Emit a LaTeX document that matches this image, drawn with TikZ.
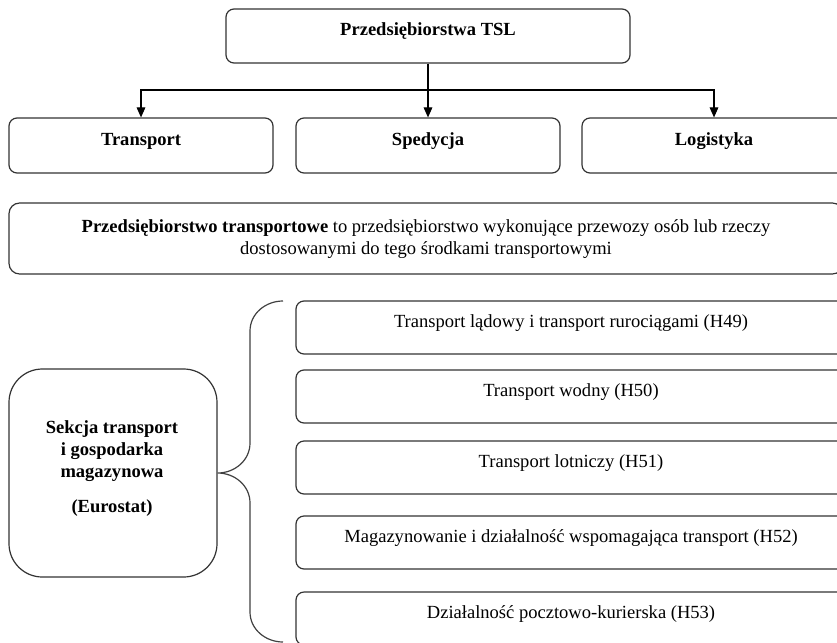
\documentclass[tikz,border=0pt]{standalone}
\usepackage{fontspec}
\setmainfont{Liberation Serif}
\usetikzlibrary{arrows.meta}
\tikzset{
  box/.style={draw=black!80, line width=0.9pt, rounded corners=6pt, inner sep=0pt,
    text height=0.5em, text depth=0.5em, font=\fontsize{13.9pt}{16.5pt}\selectfont},
  bbox/.style={box, font=\fontsize{13.9pt}{16.5pt}\selectfont\bfseries},
  rowbox/.style={bbox, minimum width=198pt, minimum height=41.25pt},
  catbox/.style={box, minimum width=412.5pt, minimum height=39.75pt},
  txt/.style={inner sep=0pt, anchor=base, font=\fontsize{13.9pt}{16.5pt}\selectfont},
  conn/.style={draw=black, line width=0.8pt, -{Triangle[length=7.5pt,width=6.5pt]}},
  bracestyle/.style={draw=black!75, line width=0.9pt}
}
\begin{document}
\begin{tikzpicture}[x=0.75pt,y=-0.75pt]
\useasboundingbox (0,0) rectangle (837,642);
\clip (0,0) rectangle (837,642);

% top
\node[bbox, minimum width=303pt, minimum height=40.5pt] (tsl) at (428,36) {Przedsiębiorstwa TSL};
\node[rowbox] (transport) at (141,145.5) {Transport};
\node[rowbox] (spedycja) at (428,145.5) {Spedycja};
\node[rowbox] (logistyka) at (714,145.5) {Logistyka};
\coordinate (split) at (428,90);
\draw[conn] (tsl.south) -- (spedycja.north);
\draw[conn] (split) -| (transport.north);
\draw[conn] (split) -| (logistyka.north);

% definition
\node[box, minimum width=625.5pt, minimum height=53.25pt, rounded corners=8pt] (def) at (426,238.5) {};
\node[txt] (def1) at (426,232) {\textbf{Przedsiębiorstwo transportowe} to przedsiębiorstwo wykonujące przewozy osób lub rzeczy};
\node[txt] (def2) at (426,254) {dostosowanymi do tego środkami transportowymi};

% Eurostat section
\node[box, minimum width=156pt, minimum height=156pt, rounded corners=25pt] (sekcja) at (113,473) {};
\node[txt, align=center, font=\fontsize{13.9pt}{16.5pt}\selectfont\bfseries] (sekcjatxt) at (112,512)
  {Sekcja transport\\i gospodarka\\magazynowa\\[9.75pt](Eurostat)};

\node[catbox] (h49) at (571,327.5) {Transport lądowy i transport rurociągami (H49)};
\node[catbox] (h50) at (571,396.5) {Transport wodny (H50)};
\node[catbox] (h51) at (571,467.5) {Transport lotniczy (H51)};
\node[catbox] (h52) at (571,542.5) {Magazynowanie i działalność wspomagająca transport (H52)};
\node[catbox] (h53) at (571,618.5) {Działalność pocztowo-kurierska (H53)};

\coordinate (btop) at (283,301);
\coordinate (bbot) at (283,642);
\draw[bracestyle] (btop) to[out=180,in=90] (250,331) -- (250,443)
  to[out=-90,in=0] (sekcja.east) to[out=0,in=90] (250,503) -- (250,612)
  to[out=-90,in=180] (bbot);
\end{tikzpicture}
\end{document}
